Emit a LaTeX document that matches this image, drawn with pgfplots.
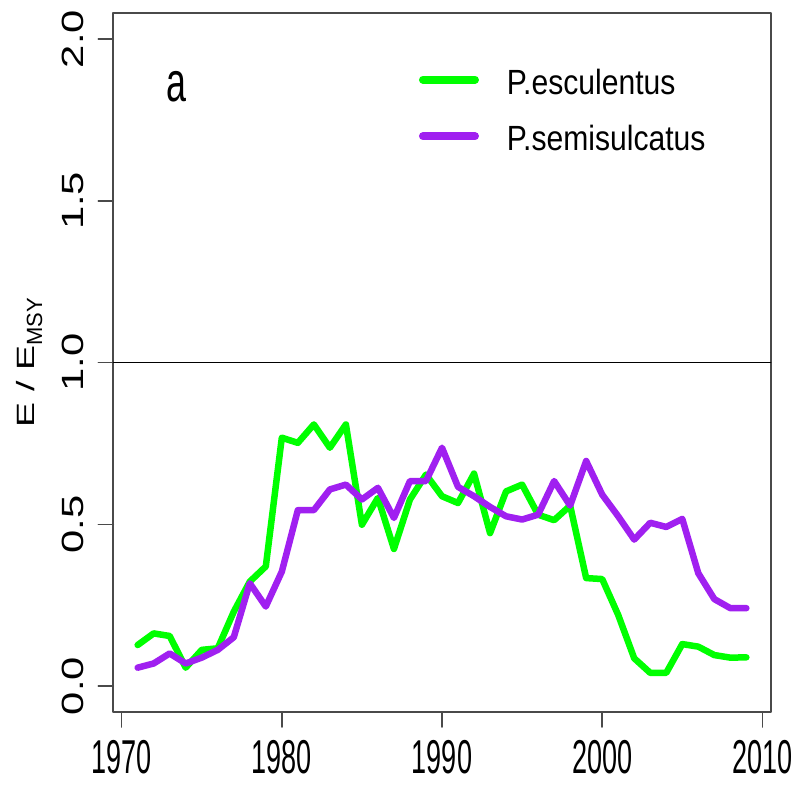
\documentclass[border=0pt]{standalone}
\usepackage{fontspec}
\usepackage{pgfplots}
\usepackage{pgfplotstable}
\pgfplotsset{compat=1.18}
\setmainfont{Liberation Sans}
\newfontfamily\xtickfam[FakeStretch=0.57]{Liberation Sans}
\newfontfamily\ytickfam[FakeStretch=1.36]{Liberation Sans}
\newfontfamily\ylabfam[FakeStretch=1.5]{Liberation Sans}
\newfontfamily\ysubfam{Liberation Sans}
\newfontfamily\legfam[FakeStretch=0.86]{Liberation Sans}
\newfontfamily\panelfam[FakeStretch=0.64]{Liberation Sans}
\newcommand\xtf{\xtickfam\fontsize{47.5bp}{57bp}\selectfont}
\newcommand\ytf{\ytickfam\fontsize{30.7bp}{37bp}\selectfont}
\newcommand\legf{\legfam\fontsize{35bp}{42bp}\selectfont}
\definecolor{rgreen}{HTML}{00FF00}
\definecolor{rpurple}{HTML}{A020F0}
\definecolor{axgray}{HTML}{4A4A4A}

% E/Emsy, 1971-2009
\pgfplotstableread{
year escul semis
1971 0.127 0.057
1972 0.163 0.070
1973 0.155 0.101
1974 0.057 0.070
1975 0.112 0.088
1976 0.117 0.112
1977 0.230 0.151
1978 0.323 0.318
1979 0.370 0.246
1980 0.768 0.354
1981 0.752 0.544
1982 0.809 0.544
1983 0.737 0.608
1984 0.809 0.623
1985 0.499 0.577
1986 0.582 0.613
1987 0.424 0.520
1988 0.577 0.634
1989 0.654 0.634
1990 0.587 0.737
1991 0.566 0.616
1992 0.657 0.587
1993 0.473 0.554
1994 0.602 0.525
1995 0.623 0.515
1996 0.530 0.530
1997 0.513 0.634
1998 0.558 0.558
1999 0.334 0.696
2000 0.331 0.592
2001 0.220 0.525
2002 0.086 0.453
2003 0.041 0.505
2004 0.041 0.492
2005 0.130 0.517
2006 0.122 0.349
2007 0.096 0.269
2008 0.088 0.241
2009 0.089 0.241
}\effort

\begin{document}
\begin{tikzpicture}
\useasboundingbox (-113.3bp,-74bp) rectangle (685.7bp,712bp);
\begin{axis}[
  at={(0,0)}, anchor=south west,
  scale only axis, width=657.4bp, height=698.7bp,
  xmin=1969.48, xmax=2010.52, ymin=-0.08, ymax=2.08,
  xtick={1970,1980,1990,2000,2010},
  xticklabels={1970,1980,1990,2000,2010},
  ytick={0,0.5,1,1.5,2},
  yticklabels={0.0,0.5,1.0,1.5,2.0},
  xtick pos=bottom, ytick pos=left,
  tick align=outside, major tick length=15bp,
  tick style={axgray, line width=1.6bp},
  axis line style={axgray, line width=1.8bp},
  xticklabel style={font=\xtf, anchor=center, yshift=-30bp},
  yticklabel style={font=\ytf, xshift=-25bp, rotate=90, anchor=center},
  every axis y label/.style={at={(rel axis cs:0,0.5)}, xshift=-84bp, rotate=90, anchor=center},
  ylabel={{\ylabfam\fontsize{25bp}{30bp}\selectfont E / E}\raisebox{-8bp}{\ysubfam\fontsize{22bp}{26bp}\selectfont MSY}},
  legend style={draw=none, fill=none, inner sep=0pt, outer sep=0pt,
    at={(rel axis cs:0.465,0.9243)}, anchor=north west,
    nodes={inner sep=0pt, text height=28bp, text depth=8bp, font=\legf},
    row sep=20.6bp, column sep=28bp},
  legend cell align=left,
  legend image code/.code={\draw[#1, line width=8bp, line cap=round] (4bp,4.5bp) -- (56bp,4.5bp);},
  line join=round, line cap=round,
  clip=false,
]
\addplot[black, line width=1.5bp, forget plot] coordinates {(1969.48,1) (2010.52,1)};
\addplot[rgreen, line width=6.5bp] table[x=year, y=escul] {\effort};
\addplot[rpurple, line width=6.5bp] table[x=year, y=semis] {\effort};
\legend{P.esculentus, P.semisulcatus}
\node[anchor=center, inner sep=0pt, font={\panelfam\fontsize{56bp}{60bp}\selectfont}] at (rel axis cs:0.0961,0.8945) {a};
\end{axis}
\end{tikzpicture}
\end{document}
